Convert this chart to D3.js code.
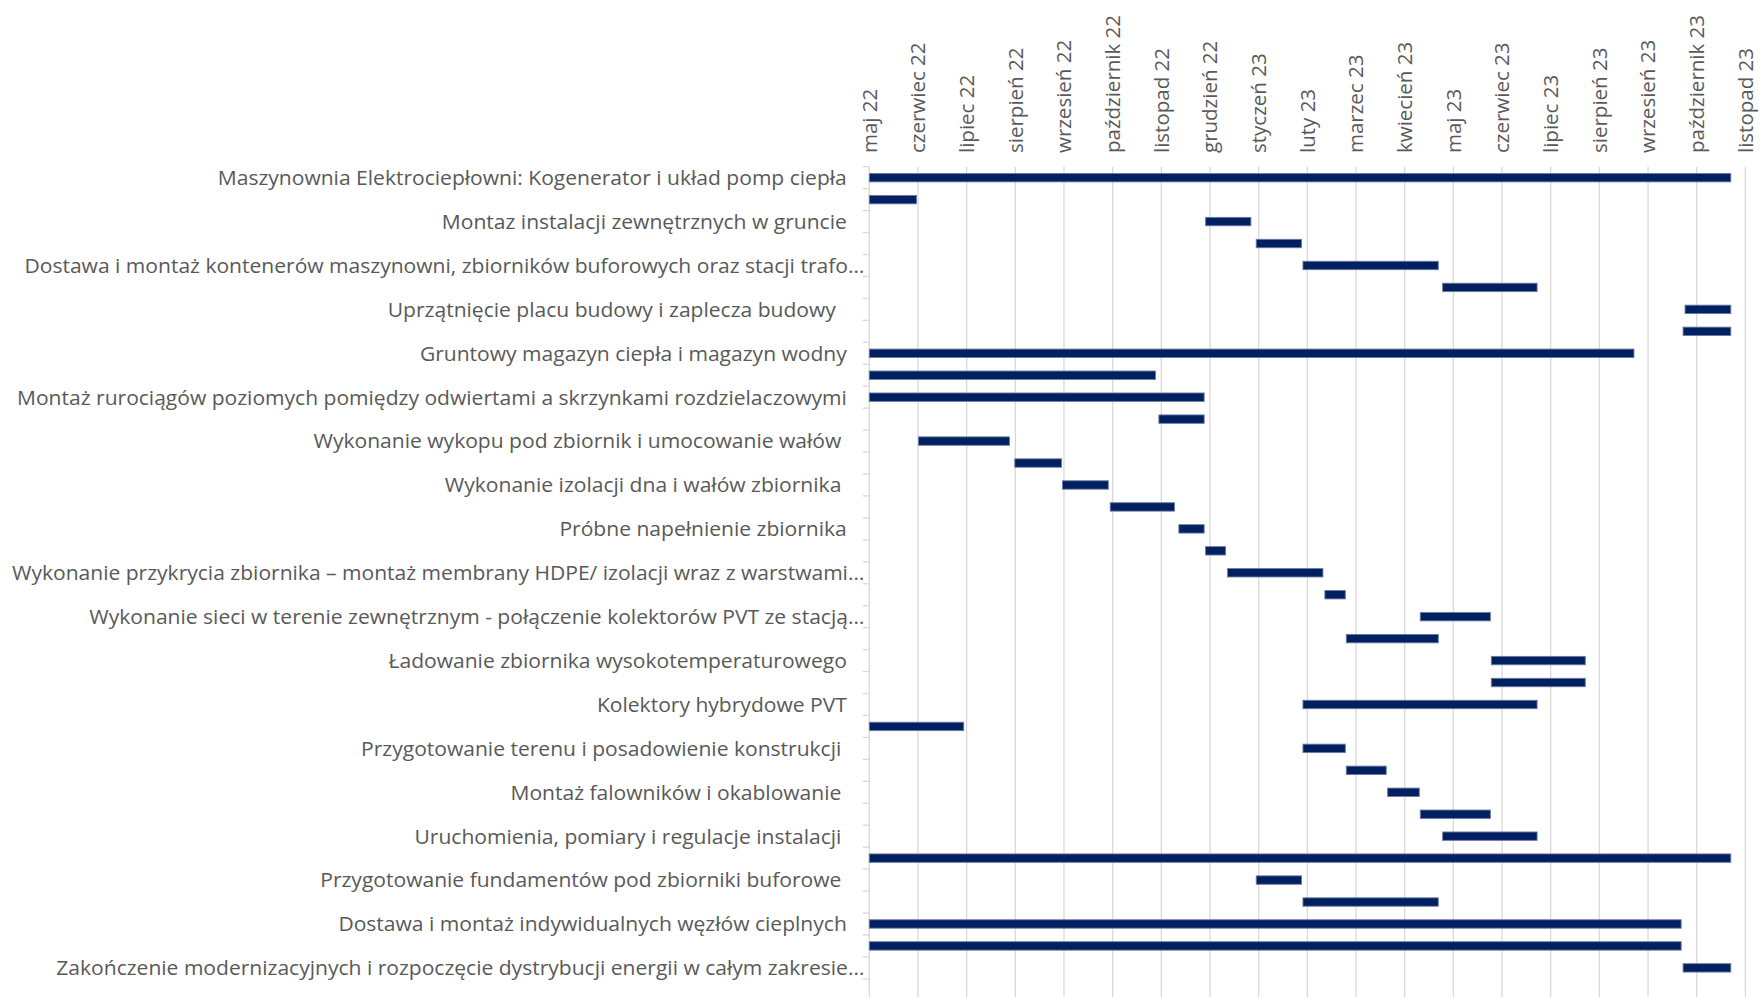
<!DOCTYPE html>
<html>
<head>
<meta charset="utf-8">
<script src="https://cdn.jsdelivr.net/npm/d3@7"></script>
<style>
  html, body { margin: 0; padding: 0; background: #ffffff; }
  svg text { white-space: pre; }
</style>
</head>
<body>
<svg id="chart" width="1759" height="997"></svg>
<script>
// ---- Data ----
const monthLabels = ["maj 22","czerwiec 22","lipiec 22","sierpień 22","wrzesień 22","październik 22",
  "listopad 22","grudzień 22","styczeń 23","luty 23","marzec 23","kwiecień 23","maj 23",
  "czerwiec 23","lipiec 23","sierpień 23","wrzesień 23","październik 23","listopad 23"];

// Visible category labels (Excel shows every second category)
const taskLabels = [
  "Maszynownia Elektrociepłowni: Kogenerator i układ pomp ciepła",
  "Montaz instalacji zewnętrznych w gruncie",
  "Dostawa i montaż kontenerów maszynowni, zbiorników buforowych oraz stacji trafo…",
  "Uprzątnięcie placu budowy i zaplecza budowy  ",
  "Gruntowy magazyn ciepła i magazyn wodny",
  "Montaż rurociągów poziomych pomiędzy odwiertami a skrzynkami rozdzielaczowymi",
  "Wykonanie wykopu pod zbiornik i umocowanie wałów ",
  "Wykonanie izolacji dna i wałów zbiornika ",
  "Próbne napełnienie zbiornika",
  "Wykonanie przykrycia zbiornika – montaż membrany HDPE/ izolacji wraz z warstwami…",
  "Wykonanie sieci w terenie zewnętrznym - połączenie kolektorów PVT ze stacją…",
  "Ładowanie zbiornika wysokotemperaturowego",
  "Kolektory hybrydowe PVT",
  "Przygotowanie terenu i posadowienie konstrukcji ",
  "Montaż falowników i okablowanie ",
  "Uruchomienia, pomiary i regulacje instalacji ",
  "Przygotowanie fundamentów pod zbiorniki buforowe ",
  "Dostawa i montaż indywidualnych węzłów cieplnych",
  "Zakończenie modernizacyjnych i rozpoczęcie dystrybucji energii w całym zakresie…"
];

// Bar start / end, in months since 1 May 2022 (one value per row, top to bottom)
const barStart = [0, 0, 6.91, 7.95, 8.91, 11.78, 16.76, 16.72, 0, 0,
  0, 5.95, 1.01, 2.99, 3.97, 4.95, 6.36, 6.91, 7.36, 9.36,
  11.32, 9.80, 12.78, 12.78, 8.91, 0, 8.91, 9.80, 10.65, 11.32,
  11.78, 0, 7.95, 8.91, 0, 0, 16.72];
const barEnd = [17.70, 0.97, 7.84, 8.88, 11.69, 13.72, 17.70, 17.70, 15.71, 5.88,
  6.88, 6.88, 2.88, 3.95, 4.91, 6.27, 6.88, 7.32, 9.32, 9.78,
  12.76, 11.69, 14.71, 14.71, 13.72, 1.94, 9.78, 10.62, 11.30, 12.76,
  13.72, 17.70, 8.88, 11.69, 16.68, 16.68, 17.70];

// ---- Layout ----
const W = 1759, H = 997;
const plotLeft = 869.3, plotRight = 1745.4, plotTop = 166.7, rowStep = 21.95;
const nRows = barStart.length + 1; // one trailing empty category (cut off at bottom)
const barH = 8.4;
const font = "'Open Sans', 'Noto Sans', sans-serif";
const fontSize = 20.5, stretchX = 1.027;
const textColor = "#595959";
const gridColor = "#d9d9d9";

const svg = d3.select("#chart");
svg.append("rect").attr("width", W).attr("height", H).attr("fill", "#fff");

const x = d3.scaleLinear().domain([0, monthLabels.length - 1]).range([plotLeft, plotRight]);
const y = d3.scaleBand().domain(d3.range(nRows)).range([plotTop, plotTop + nRows * rowStep]).padding(0);

// vertical gridlines
svg.append("g").selectAll("line").data(d3.range(1, monthLabels.length)).join("line")
  .attr("x1", d => x(d)).attr("x2", d => x(d))
  .attr("y1", plotTop).attr("y2", H)
  .attr("stroke", gridColor).attr("stroke-width", 1.3);

// category axis line + ticks at row boundaries
svg.append("line").attr("x1", plotLeft).attr("x2", plotLeft).attr("y1", plotTop).attr("y2", H)
  .attr("stroke", gridColor).attr("stroke-width", 1.3);
svg.append("g").selectAll("line").data(d3.range(nRows)).join("line")
  .attr("x1", plotLeft - 6.5).attr("x2", plotLeft)
  .attr("y1", d => y(d)).attr("y2", d => y(d))
  .attr("stroke", gridColor).attr("stroke-width", 1.3);

// month labels (rotated)
svg.append("g").selectAll("text").data(monthLabels).join("text")
  .attr("transform", (d, i) => `translate(${x(i)},153) rotate(-90)`)
  .attr("dy", "0.36em")
  .attr("text-anchor", "start")
  .attr("font-family", font).attr("font-size", fontSize).attr("fill", textColor)
  .text(d => d);

// task labels on every second row
svg.append("g").selectAll("text").data(taskLabels).join("text")
  .attr("transform", (d, i) => {
    const tx = d.endsWith("…") ? plotLeft - 5 : plotLeft - 22.5;
    const ty = y(i * 2) + y.bandwidth() / 2;
    return `translate(${tx},${ty}) scale(${stretchX},1)`;
  })
  .attr("dy", "0.36em")
  .attr("text-anchor", "end")
  .attr("font-family", font).attr("font-size", fontSize).attr("fill", textColor)
  .text(d => d);

// bars
svg.append("g").selectAll("rect").data(barStart).join("rect")
  .attr("x", (d, i) => x(d))
  .attr("width", (d, i) => x(barEnd[i]) - x(d))
  .attr("y", (d, i) => y(i) + y.bandwidth() / 2 - barH / 2)
  .attr("height", barH)
  .attr("fill", "#002060")
  .attr("stroke", "#6a7ba3").attr("stroke-width", 0.9);
</script>
</body>
</html>
